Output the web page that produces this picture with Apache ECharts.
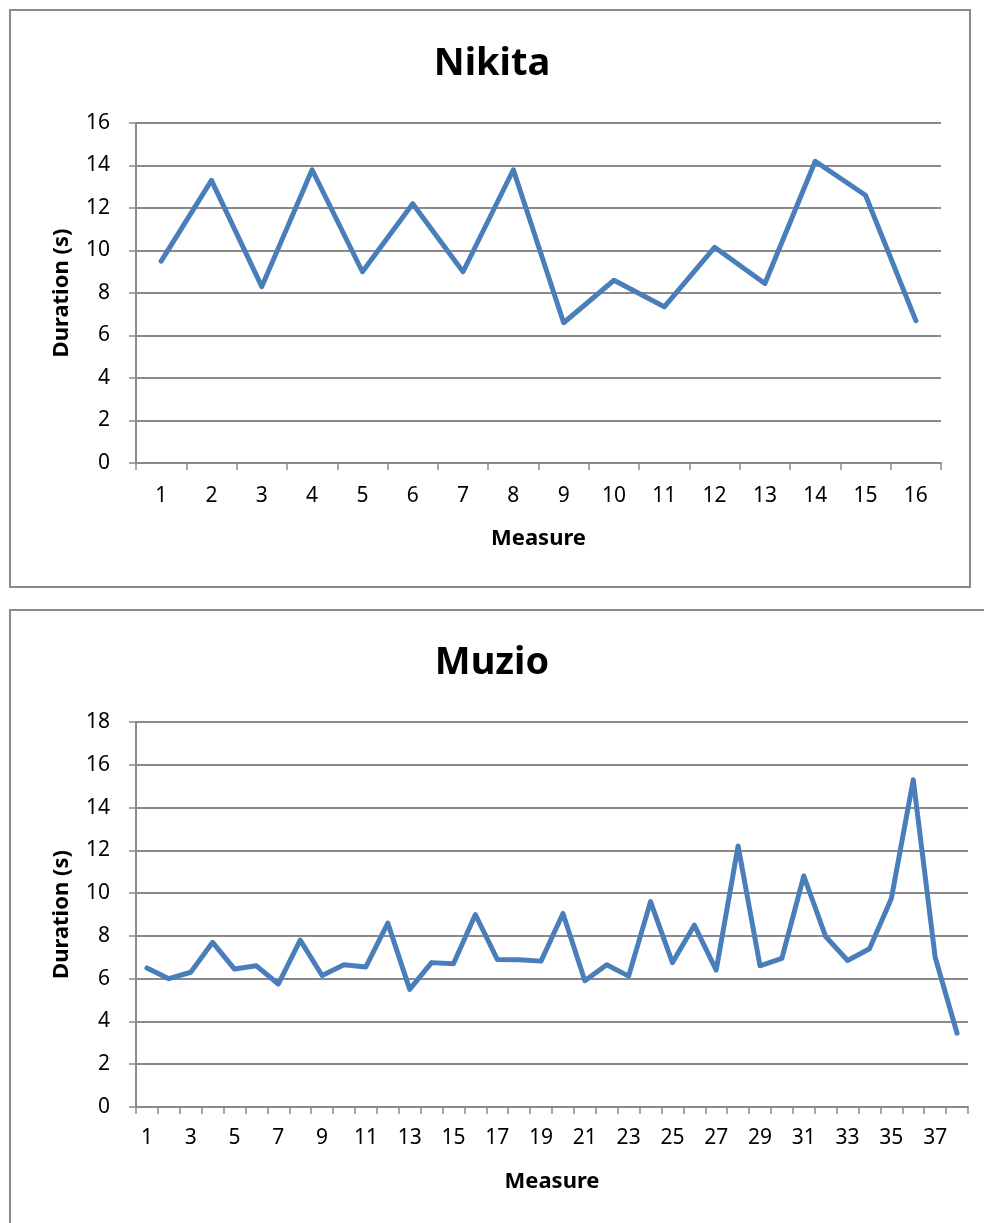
<!DOCTYPE html>
<html>
<head>
<meta charset="utf-8">
<title>Nikita / Muzio</title>
<script src="https://cdn.jsdelivr.net/npm/echarts@6/dist/echarts.min.js"></script>
<style>
  html, body { margin: 0; padding: 0; background: #ffffff; }
  #chart { width: 984px; height: 1223px; }
</style>
</head>
<body>
<div id="chart"></div>
<script>
// Duration of each measure, in seconds
const nikitaMeasures = ['1','2','3','4','5','6','7','8','9','10','11','12','13','14','15','16'];
const nikitaDurations = [9.5, 13.3, 8.3, 13.8, 9.0, 12.2, 9.0, 13.8, 6.6, 8.6, 7.35, 10.15, 8.45, 14.2, 12.6, 6.7];

const muzioMeasures = ['1','2','3','4','5','6','7','8','9','10','11','12','13','14','15','16','17','18','19',
  '20','21','22','23','24','25','26','27','28','29','30','31','32','33','34','35','36','37','38'];
const muzioDurations = [6.5, 6.0, 6.3, 7.7, 6.45, 6.6, 5.75, 7.8, 6.15, 6.65, 6.55, 8.6, 5.5, 6.75, 6.7,
  9.0, 6.9, 6.88, 6.82, 9.05, 5.9, 6.65, 6.12, 9.6, 6.75, 8.5, 6.4, 12.2, 6.6, 6.95, 10.8, 7.97,
  6.85, 7.4, 9.75, 15.3, 7.0, 3.45];

const nikitaTicks = { min: 0, max: 16, interval: 2 };
const muzioTicks = { min: 0, max: 18, interval: 2 };

const FONT = "'Noto Sans', 'Open Sans', sans-serif";
const GREY = '#8a8a8a';
const LINE = '#4a7ebb';

function xAxisFor(gridIndex, data, labelInterval, labelMargin, nameGap) {
  return {
    type: 'category',
    gridIndex: gridIndex,
    data: data,
    boundaryGap: true,
    name: 'Measure',
    nameLocation: 'middle',
    nameGap: nameGap,
    nameTextStyle: { fontFamily: FONT, fontWeight: 'bold', fontSize: 22, color: '#000' },
    axisLine: { lineStyle: { color: GREY, width: 2 } },
    axisTick: { show: true, interval: 0, length: 7, lineStyle: { color: GREY, width: 1.5 } },
    axisLabel: { interval: labelInterval, margin: labelMargin, fontFamily: FONT, fontSize: 21, color: '#000' },
    splitLine: { show: false }
  };
}

function yAxisFor(gridIndex, ticks) {
  return {
    type: 'value',
    gridIndex: gridIndex,
    min: ticks.min,
    max: ticks.max,
    interval: ticks.interval,
    name: 'Duration (s)',
    nameLocation: 'middle',
    nameGap: 63,
    nameTextStyle: { fontFamily: FONT, fontWeight: 'bold', fontSize: 22, color: '#000' },
    axisLine: { show: true, lineStyle: { color: GREY, width: 2 } },
    axisTick: { show: true, length: 7, lineStyle: { color: GREY, width: 1.5 } },
    axisLabel: { margin: 26, fontFamily: FONT, fontSize: 21, color: '#000' },
    splitLine: { show: true, lineStyle: { color: GREY, width: 2 } }
  };
}

const chart = echarts.init(document.getElementById('chart'), null, { renderer: 'canvas' });

chart.setOption({
  backgroundColor: '#ffffff',
  animation: false,
  title: [
    { text: 'Nikita', left: 'center', top: 40,
      textStyle: { fontFamily: FONT, fontWeight: 'bold', fontSize: 38, color: '#000' } },
    { text: 'Muzio', left: 'center', top: 639,
      textStyle: { fontFamily: FONT, fontWeight: 'bold', fontSize: 38, color: '#000' } }
  ],
  graphic: [
    { type: 'rect', shape: { x: 10, y: 10, width: 960, height: 577 },
      style: { fill: 'none', stroke: GREY, lineWidth: 2 }, z: -1 },
    { type: 'rect', shape: { x: 10, y: 610, width: 990, height: 700 },
      style: { fill: 'none', stroke: GREY, lineWidth: 2 }, z: -1 }
  ],
  grid: [
    { left: 136, top: 123, width: 805, height: 340 },
    { left: 136, top: 722, width: 832, height: 385 }
  ],
  xAxis: [
    xAxisFor(0, nikitaMeasures, 0, 23, 65),
    xAxisFor(1, muzioMeasures, 1, 21, 64)
  ],
  yAxis: [
    yAxisFor(0, nikitaTicks),
    yAxisFor(1, muzioTicks)
  ],
  series: [
    { type: 'line', xAxisIndex: 0, yAxisIndex: 0, data: nikitaDurations,
      showSymbol: false, symbol: 'none',
      lineStyle: { color: LINE, width: 5, join: 'round', cap: 'round' } },
    { type: 'line', xAxisIndex: 1, yAxisIndex: 1, data: muzioDurations,
      showSymbol: false, symbol: 'none',
      lineStyle: { color: LINE, width: 5, join: 'round', cap: 'round' } }
  ]
});
</script>
</body>
</html>
